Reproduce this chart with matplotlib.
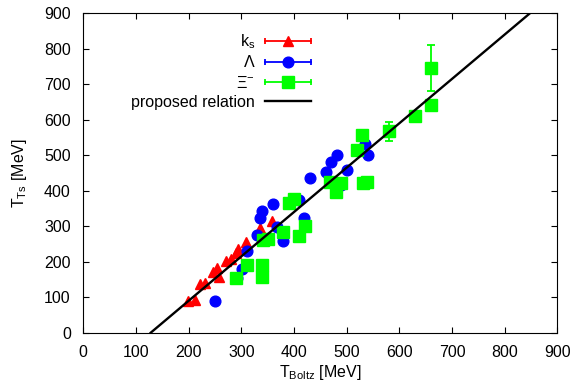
import matplotlib
matplotlib.use("Agg")
import matplotlib.pyplot as plt
from matplotlib.lines import Line2D
from matplotlib.legend_handler import HandlerLine2D, HandlerTuple
import numpy as np

plt.rcParams['font.family'] = ['Liberation Sans', 'DejaVu Sans']
plt.rcParams['mathtext.default'] = 'regular'
plt.rcParams['font.size'] = 11.5

# k_s
ks_x = [198, 213, 221, 231, 246, 253, 258, 270, 280, 290, 294, 309, 335, 359]
ks_y = [89, 92, 136, 141, 172, 181, 158, 203, 209, 225, 235, 256, 294, 315]

# Lambda
lam_x = [250, 291, 301, 310, 329, 335, 340, 360, 368, 380, 410, 419, 430, 460, 470, 481, 490, 500, 535, 541]
lam_y = [90, 153, 180, 231, 274, 322, 344, 362, 298, 259, 373, 322, 435, 454, 482, 501, 416, 459, 531, 500]

# Xi-
xi_x = [290, 310, 339, 339, 341, 351, 379, 391, 400, 410, 421, 468, 480, 490, 520, 529, 532, 539, 581, 630, 660, 661]
xi_y = [155, 190, 190, 156, 260, 265, 285, 365, 377, 273, 301, 425, 397, 421, 515, 557, 423, 426, 567, 611, 746, 641]
xi_err = [0, 0, 0, 0, 0, 0, 0, 0, 0, 0, 0, 0, 0, 0, 0, 0, 0, 0, 27, 0, 64, 0]

# proposed relation (end points)
rel_x = [128, 848]
rel_y = [0, 900]

fig = plt.figure(figsize=(5.71, 3.85), dpi=100)
ax = fig.add_axes([0.1459, 0.1358, 0.8301, 0.8297])

ax.plot(ks_x, ks_y, '^', color='red', ms=7.5, mec='red', zorder=3)
ax.plot(lam_x, lam_y, 'o', color='blue', ms=7.7, mec='blue', zorder=3)
ax.errorbar(xi_x, xi_y, yerr=xi_err, fmt='s', color='#00ff00', ms=8.5,
            ecolor='#00ff00', elinewidth=1.3, capsize=3, capthick=1.3, zorder=4)
ax.plot(rel_x, rel_y, '-', color='black', lw=1.7, zorder=5)

ax.set_xlim(0, 900)
ax.set_ylim(0, 900)
ax.set_xticks(range(0, 901, 100))
ax.set_yticks(range(0, 901, 100))
ax.tick_params(direction='in', top=True, right=True, length=4, width=0.8,
               labelsize=11.5)
ax.tick_params(axis='x', pad=9)
ax.tick_params(axis='y', pad=9)
ax.set_xlabel('T$_{Boltz}$ [MeV]', fontsize=11.5, labelpad=2)
ax.set_ylabel('T$_{Ts}$ [MeV]', fontsize=11.5, labelpad=11)

# gnuplot style legend keys: line with caps and a marker in the middle
handles = []
hmap = {tuple: HandlerTuple(ndivide=1)}
for c, m, s in [('red', '^', 7.5), ('blue', 'o', 7.7), ('#00ff00', 's', 8.5)]:
    cap = Line2D([], [], color=c, lw=1.3, marker='|', ms=5, mew=1.3)
    mk = Line2D([], [], color=c, ls='none', marker=m, ms=s, mec=c)
    hmap[cap] = HandlerLine2D(numpoints=2, marker_pad=0)
    hmap[mk] = HandlerLine2D(numpoints=1)
    handles.append((cap, mk))
handles.append(Line2D([], [], color='black', lw=1.7))
labels = ['k$_s$', 'Λ', 'Ξ$^{-}$', 'proposed relation']

ax.legend(handles, labels, handler_map=hmap, loc='upper right',
          bbox_to_anchor=(0.48, 0.94), frameon=False, markerfirst=False,
          handlelength=2.9, handletextpad=0.6, labelspacing=0.27,
          borderaxespad=0, borderpad=0, fontsize=11.5)

fig.savefig('out.png', dpi=100)
